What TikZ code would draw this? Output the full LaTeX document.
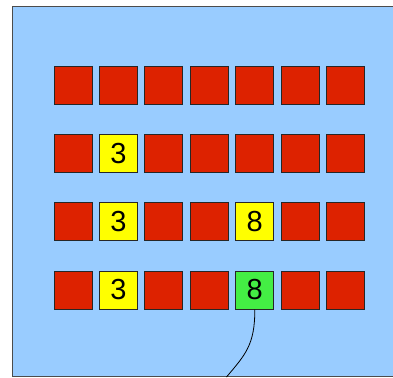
\documentclass[tikz,border=0pt]{standalone}
\usepackage{fontspec}
\setmainfont{Liberation Sans}
\definecolor{bgblue}{HTML}{99CCFF}
\definecolor{cellred}{HTML}{DD2200}
\definecolor{cellyellow}{HTML}{FFFF00}
\definecolor{cellgreen}{HTML}{44EE44}
\begin{document}
\begin{tikzpicture}[x=1pt,y=-1pt,
  cell/.style={draw=black!85, line width=1pt, minimum size=38pt, inner sep=0pt, fill=cellred, font=\fontsize{29}{29}\selectfont},
  ycell/.style={cell, fill=cellyellow},
  gcell/.style={cell, fill=cellgreen}]
\useasboundingbox (0,0) rectangle (393,377);
\clip (0,0) rectangle (393,377);
\draw[fill=bgblue, draw=black!70, line width=1pt] (12.5,6.5) rectangle (400,376.5);
\foreach \r [count=\i] in {85.7,153.8,221.9,290} {
  \foreach \c in {1,...,7} {
    \node[cell] (r\i c\c) at ({73+45.45*(\c-1)},\r) {};
  }
}
\node[ycell] (y22) at (r2c2) {3};
\node[ycell] (y32) at (r3c2) {3};
\node[ycell] (y35) at (r3c5) {8};
\node[ycell] (y42) at (r4c2) {3};
\node[gcell] (g45) at (r4c5) {8};
\coordinate (tail) at (226.5,377);
\draw[line width=0.8pt] (g45.south) .. controls (255,345) and (245,355) .. (tail);
\end{tikzpicture}
\end{document}
